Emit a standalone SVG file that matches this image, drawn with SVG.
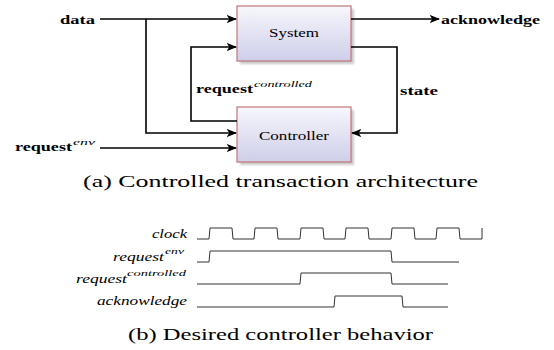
<svg xmlns="http://www.w3.org/2000/svg" width="554" height="350" viewBox="0 0 554 350">
<style>
text{font-family:"Liberation Serif","DejaVu Serif","Times New Roman",serif;fill:#000}
.lbl{font-weight:bold;font-size:13px}
.sup{font-style:italic;font-size:9px}
.node{font-size:13px}
.it{font-style:italic;font-size:13px}
.its{font-style:italic;font-size:9px}
.cap{font-size:16px}
.box{fill:url(#g);stroke:#c27777;stroke-width:1.2}
.shadow{fill:#888;opacity:0.45;filter:url(#blur)}
.conn path{fill:none;stroke:#000;stroke-width:1.6}
.wave path{fill:none;stroke:#333;stroke-width:1}
</style>
<defs>
<linearGradient id="g" x1="0" y1="0" x2="0" y2="1">
<stop offset="0" stop-color="#f7f7fc"/>
<stop offset="1" stop-color="#ceceea"/>
</linearGradient>
<filter id="blur" x="-10%" y="-10%" width="120%" height="120%"><feGaussianBlur stdDeviation="1"/></filter>
<marker id="ar" viewBox="0 0 10 10" refX="9" refY="5" markerWidth="6.5" markerHeight="6.5" orient="auto" markerUnits="strokeWidth">
<path d="M0,1 L10,5 L0,9 L2.5,5 Z" fill="#000"/>
</marker>
</defs>

<g id="system">
<rect class="shadow" x="240" y="9" width="114" height="55"/>
<rect class="box" x="237" y="6" width="114" height="55"/>
<text class="node" x="269" y="37" textLength="50" lengthAdjust="spacingAndGlyphs">System</text>
</g>
<g id="controller">
<rect class="shadow" x="240" y="110" width="114" height="55"/>
<rect class="box" x="237" y="107" width="114" height="55"/>
<text class="node" x="259" y="140" textLength="70" lengthAdjust="spacingAndGlyphs">Controller</text>
</g>

<g id="connectors" class="conn">
<path d="M100,19 H236" marker-end="url(#ar)"/>
<path d="M146,19 V133 H236" marker-end="url(#ar)"/>
<path d="M100,148 H236" marker-end="url(#ar)"/>
<path d="M237,121 H191 V47 H236" marker-end="url(#ar)"/>
<path d="M351,19 H439" marker-end="url(#ar)"/>
<path d="M351,47 H397 V133 H352" marker-end="url(#ar)"/>
</g>

<g id="labels">
<text class="lbl" x="60" y="24" textLength="35" lengthAdjust="spacingAndGlyphs">data</text>
<text class="lbl" x="15" y="151" textLength="57" lengthAdjust="spacingAndGlyphs">request</text>
<text class="sup" x="73" y="145" textLength="22" lengthAdjust="spacingAndGlyphs">env</text>
<text class="lbl" x="196" y="93" textLength="57" lengthAdjust="spacingAndGlyphs">request</text>
<text class="sup" x="254" y="87" textLength="58" lengthAdjust="spacingAndGlyphs">controlled</text>
<text class="lbl" x="400" y="95" textLength="38" lengthAdjust="spacingAndGlyphs">state</text>
<text class="lbl" x="441" y="24" textLength="99" lengthAdjust="spacingAndGlyphs">acknowledge</text>
<text class="cap" x="83" y="187" textLength="395" lengthAdjust="spacingAndGlyphs">(a) Controlled transaction architecture</text>
</g>

<g id="timing">
<text class="it" x="152" y="238" textLength="35" lengthAdjust="spacingAndGlyphs">clock</text>
<text class="it" x="113" y="261" textLength="51" lengthAdjust="spacingAndGlyphs">request</text>
<text class="its" x="165" y="254" textLength="19" lengthAdjust="spacingAndGlyphs">env</text>
<text class="it" x="76" y="283" textLength="51" lengthAdjust="spacingAndGlyphs">request</text>
<text class="its" x="127" y="276" textLength="59" lengthAdjust="spacingAndGlyphs">controlled</text>
<text class="it" x="97" y="305" textLength="90" lengthAdjust="spacingAndGlyphs">acknowledge</text>
<g class="wave">
<path d="M197,239 H209 L210,228 H232 L233,239 H254 L255,228 H277 L278,239 H300 L301,228 H323 L324,239 H345 L346,228 H368 L369,239 H391 L392,228 H414 L415,239 H436 L437,228 H459 L460,239 H482 V228"/>
<path d="M197,262 H209 L210,251 H391 L392,262 H459"/>
<path d="M197,284 H300 L301,273 H391 L392,284 H448"/>
<path d="M197,307 H334 L335,296 H402 L403,307 H448"/>
</g>
<text class="cap" x="128" y="340" textLength="305" lengthAdjust="spacingAndGlyphs">(b) Desired controller behavior</text>
</g>
</svg>
